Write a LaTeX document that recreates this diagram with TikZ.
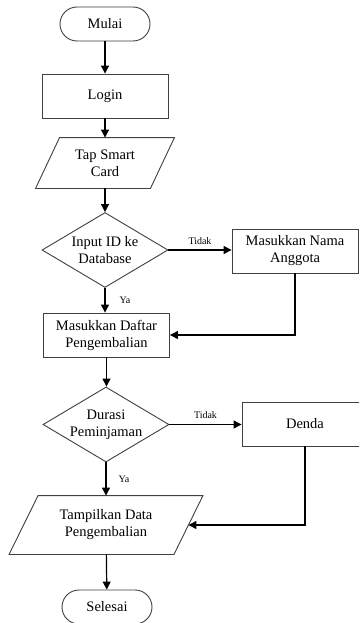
\documentclass[tikz,border=0pt]{standalone}
\usepackage{fontspec}
\setmainfont{Liberation Serif}
\usetikzlibrary{shapes.geometric,arrows.meta}
\begin{document}
\begin{tikzpicture}[x=1pt,y=-1pt,
  edge/.style={draw=black!75, line width=0.9pt},
  base/.style={edge, text=black,
    font=\fontsize{14.5}{17}\selectfont, align=center, inner sep=0pt},
  term/.style={base, rectangle, rounded corners=17pt, minimum width=90pt, minimum height=34pt},
  proc/.style={base, rectangle, minimum width=126pt, minimum height=44pt},
  dec/.style={base, diamond, minimum width=126pt, minimum height=75pt},
  iobody/.style={base, draw=none, rectangle},
  flow/.style={-{Triangle[length=8pt,width=8pt]}, line width=1.2pt, black},
  lbl/.style={font=\fontsize{10}{12}\selectfont, inner sep=0pt, text=black}
]
\clip (0,0) rectangle (359,623);
\fill[white] (0,0) rectangle (359,623);

% process nodes
\node[term] (mulai) at (105,24) {Mulai};
\node[proc] (login) at (105,96) {Login};
\node[iobody, minimum width=114pt, minimum height=50pt] (tap) at (105,163) {Tap Smart\\Card};
\node[dec, label={[base, draw=none, align=center]center:Input ID ke\\Database}] (input) at (105,250) {};
\node[proc] (nama) at (295,251) {Masukkan Nama\\Anggota};
\node[proc] (daftar) at (106.5,335) {Masukkan Daftar\\Pengembalian};
\node[dec, label={[base, draw=none, align=center]center:Durasi\\Peminjaman}] (durasi) at (106,424.5) {};
\node[proc] (denda) at (305,424) {Denda};
\node[iobody, minimum width=164pt, minimum height=58pt] (tampil) at (106,525) {Tampilkan Data\\Pengembalian};
\node[term] (selesai) at (107,607) {Selesai};

% input/output parallelograms around their text nodes
\draw[edge] ([xshift=12pt]tap.north west) -- ([xshift=12pt]tap.north east)
  -- ([xshift=-12pt]tap.south east) -- ([xshift=-12pt]tap.south west) -- cycle;
\draw[edge] ([xshift=14.5pt]tampil.north west) -- ([xshift=14.5pt]tampil.north east)
  -- ([xshift=-14.5pt]tampil.south east) -- ([xshift=-14.5pt]tampil.south west) -- cycle;

% connectors
\draw[flow] (mulai) -- (login);
\draw[flow] (login) -- (tap);
\draw[flow] (tap) -- (input);
\draw[flow] (input.east) -- node[lbl, above=5pt] {Tidak} (input.east -| nama.west);
\draw[flow] (input.south) -- node[lbl, right=14pt] {Ya} (input.south |- daftar.north);
\draw[flow] (nama.south) |- (daftar.east);
\draw[flow] (daftar.south) -- (daftar.south |- durasi.north);
\draw[flow] (durasi.east) -- node[lbl, above=5pt] {Tidak} (durasi.east -| denda.west);
\draw[flow] (durasi.south) -- node[lbl, right=12pt] {Ya} (durasi.south |- tampil.north);
\draw[flow] (denda.south) |- (tampil.east);
\draw[flow] (tampil) -- (selesai);
\end{tikzpicture}
\end{document}
